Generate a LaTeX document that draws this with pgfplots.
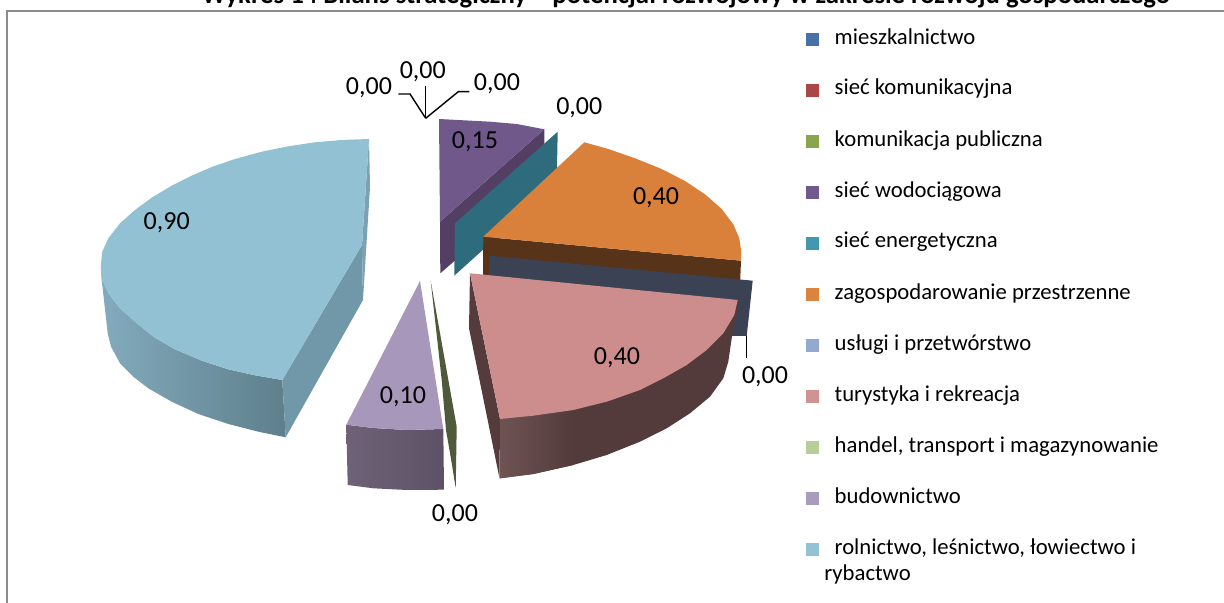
\documentclass[border=0pt]{standalone}
\usepackage{fontspec}
\setmainfont{Carlito}
\usepackage{pgfplots}
\pgfplotsset{compat=1.18}

% legend colours
\definecolor{lgA}{HTML}{4672A8}
\definecolor{lgB}{HTML}{AA4644}
\definecolor{lgC}{HTML}{89A54E}
\definecolor{lgD}{HTML}{71588F}
\definecolor{lgE}{HTML}{4198AF}
\definecolor{lgF}{HTML}{DB843D}
\definecolor{lgG}{HTML}{93A9CF}
\definecolor{lgH}{HTML}{D19392}
\definecolor{lgI}{HTML}{B9CD96}
\definecolor{lgJ}{HTML}{A99BBD}
\definecolor{lgK}{HTML}{92C3D5}
% slice faces and walls
\definecolor{topK}{HTML}{92C1D3}
\definecolor{rightA}{HTML}{7098A9}
\definecolor{rightB}{HTML}{79A3B5}
\definecolor{wallAl}{HTML}{83ABBD}
\definecolor{wallAr}{HTML}{5E7F8C}
\definecolor{topD}{HTML}{71588B}
\definecolor{wallD}{HTML}{533F64}
\definecolor{wallE}{HTML}{2E6B7C}
\definecolor{topF}{HTML}{D9803B}
\definecolor{wallF}{HTML}{573319}
\definecolor{wallG}{HTML}{3B4253}
\definecolor{topH}{HTML}{CE8D8D}
\definecolor{wallH2}{HTML}{553B3C}
\definecolor{wallHl}{HTML}{6E5353}
\definecolor{wallHr}{HTML}{533B3B}
\definecolor{topJ}{HTML}{A797BB}
\definecolor{wallJl}{HTML}{6E6278}
\definecolor{wallJr}{HTML}{5D5265}
\definecolor{wallI}{HTML}{4F5A3C}

\pgfplotsset{
  face/.style={fill=#1,draw=none,forget plot},
  wall/.style 2 args={left color=#1,right color=#2,draw=none,forget plot},
  leader/.style={black,line width=0.7pt,forget plot},
}
\tikzset{val/.style={font=\fontsize{13}{15}\selectfont,anchor=base,inner sep=0pt}}

\begin{document}
\begin{tikzpicture}
\path[use as bounding box,clip] (0,0) rectangle (612pt,301.5pt);
\begin{axis}[
    at={(0,0)},anchor=south west,
    width=612pt,height=301.5pt,scale only axis,
    xmin=0,xmax=1224,ymin=0,ymax=603,y dir=reverse,
    hide axis,clip=false,
    legend cell align=left,
    legend style={at={(axis cs:806,31)},anchor=north west,draw=none,fill=none,
      inner sep=0pt,outer sep=0pt,row sep=16.75pt,column sep=7.85pt,
      font=\fontsize{11.35}{13}\selectfont,
      nodes={inner sep=0pt,text height=6.5pt,text depth=2.25pt}},
    legend image code/.code={\path[draw=none,#1] (0pt,-0.3em) rectangle (6.5pt,{6.5pt-0.3em});},
]
% frame
\addplot[draw=black!45,line width=1pt,forget plot] coordinates {(1224,11) (7,11) (7,603)};

% rolnictwo 0,90
\addplot[wall={wallAl}{wallAr}] coordinates {
  (101,270) (101.7,280) (107.7,333.3) (111,346.7) (120,363.3) (133.3,376.7) (148.3,388.3)
  (171.7,401.7) (198.3,414) (228.3,424) (258.3,431.7) (285.7,437.3) (282.3,380) (255,375.3)
  (228.3,369.3) (201.7,360.7) (175,349.3) (153.3,336.7) (135,321.7) (120,308.3) (108.3,293.3)} -- cycle;
\addplot[face=rightA] coordinates {(282.3,380) (362,245) (363,300) (285.7,437.3)} -- cycle;
\addplot[face=rightB] coordinates {(369,139) (370,187) (363,300) (362,245)} -- cycle;
\addplot[face=topK] coordinates {
  (369,139) (341.7,140) (315,142.3) (288.3,146.3) (261.7,151.7) (235,159) (211.7,167)
  (191.7,175.7) (171.7,185.7) (151.7,197.7) (135,210) (120,223.3) (108.3,238.3) (102.3,251.7)
  (100.7,266.7) (101.7,280) (108.3,293.3) (120,308.3) (135,321.7) (153.3,336.7) (175,349.3)
  (201.7,360.7) (228.3,369.3) (255,375.3) (282.3,380) (362,245)} -- cycle;

% siec wodociagowa 0,15
\addplot[face=wallD] coordinates {(440,221.7) (544.3,129.3) (544.3,183) (440.3,273.3)} -- cycle;
\addplot[face=topD] coordinates {(439,119) (490,121.7) (516.7,124) (544.3,129.3) (440,221.7)} -- cycle;

% siec energetyczna 0,00
\addplot[face=wallE] coordinates {(557.7,131.7) (455,223.3) (454.3,275.7) (556.7,183)} -- cycle;

% zagospodarowanie 0,40
\addplot[face=wallF] coordinates {(483.3,236.7) (741,260.7) (740,285) (483,285)} -- cycle;
\addplot[face=topF] coordinates {
  (584.3,142.3) (608.3,149) (635,158.3) (661.7,169) (685,181) (705,194.3) (721.7,209)
  (733.3,224.3) (739.3,238.3) (741,250) (741,260.7) (483.3,236.7)} -- cycle;

% uslugi 0,00
\addplot[face=wallG] coordinates {(489.3,255.7) (752.7,280.7) (746.7,336) (560,336) (489,290)} -- cycle;

% turystyka 0,40
\addplot[face=wallH2] coordinates {(470,273.3) (469,328.3) (499.5,478.3) (500,419)} -- cycle;
\addplot[face=wallHr] coordinates {
  (500,419) (500,478.3) (533.3,474) (573.3,465) (606.7,455) (640,441.7) (666.7,428.3)
  (690,413.3) (710,396.7) (723.3,378.3) (728.3,361.7) (731.7,338.3) (736.7,315) (737.7,300)} -- cycle;
\addplot[wall={wallHl}{wallHr}] coordinates {
  (500,419) (500,478.3) (533.3,474) (573.3,465) (573.3,410)} -- cycle;
\addplot[face=topH] coordinates {
  (470,273.3) (737.7,300) (734.3,315) (723.3,333.3) (706.7,350) (686.7,365) (663.3,378.3)
  (640,390) (606.7,401.7) (573.3,410) (533.3,415.7) (500,419)} -- cycle;

% budownictwo 0,10
\addplot[wall={wallJl}{wallJr}] coordinates {
  (346.3,424.7) (347.7,485) (373.3,488.3) (406.7,490) (444,489.7) (443.3,429) (406.7,430) (373.3,428)} -- cycle;
\addplot[face=topJ] coordinates {(420,281) (443.3,429) (406.7,430) (373.3,428) (346.3,424.7)} -- cycle;

% handel 0,00
\addplot[face=wallI] coordinates {
  (430.7,281) (456.7,426.7) (455.7,488.3) (451.7,463) (446,430) (441.7,380)} -- cycle;

% leader lines
\addplot[leader] coordinates {(398.3,94) (410,94) (425.7,118.3)};
\addplot[leader] coordinates {(425.7,85.7) (425.7,118.3)};
\addplot[leader] coordinates {(469.3,91.7) (458.3,91.7) (425.7,118.3)};
\addplot[leader] coordinates {(746.7,336) (746.7,358)};

% legend
\addlegendimage{fill=lgA}\addlegendentry{mieszkalnictwo}
\addlegendimage{fill=lgB}\addlegendentry{sieć komunikacyjna}
\addlegendimage{fill=lgC}\addlegendentry{komunikacja publiczna}
\addlegendimage{fill=lgD}\addlegendentry{sieć wodociągowa}
\addlegendimage{fill=lgE}\addlegendentry{sieć energetyczna}
\addlegendimage{fill=lgF}\addlegendentry{zagospodarowanie przestrzenne}
\addlegendimage{fill=lgG}\addlegendentry{usługi i przetwórstwo}
\addlegendimage{fill=lgH}\addlegendentry{turystyka i rekreacja}
\addlegendimage{fill=lgI}\addlegendentry{handel, transport i magazynowanie}
\addlegendimage{fill=lgJ}\addlegendentry{budownictwo}
\addlegendimage{fill=lgK}\addlegendentry{rolnictwo, leśnictwo, łowiectwo i}

% texts
\node[font=\fontsize{11.35}{13}\selectfont,anchor=base west,inner sep=0pt] at (axis cs:824,580) {rybactwo};
\node[font=\bfseries\fontsize{13.35}{15}\selectfont,anchor=base,inner sep=0pt] at (axis cs:686,4) {Wykres 14 Bilans strategiczny -- potencjał rozwojowy w zakresie rozwoju gospodarczego};
\node[val] at (axis cs:369,94.3) {0,00};
\node[val] at (axis cs:422.8,79) {0,00};
\node[val] at (axis cs:497,91) {0,00};
\node[val] at (axis cs:579.3,115) {0,00};
\node[val] at (axis cs:475,148.3) {0,15};
\node[val] at (axis cs:656,205) {0,40};
\node[val] at (axis cs:617,365) {0,40};
\node[val] at (axis cs:765,383.3) {0,00};
\node[val] at (axis cs:403,403.3) {0,10};
\node[val] at (axis cs:166.7,229.3) {0,90};
\node[val] at (axis cs:455,521.7) {0,00};
\end{axis}
\end{tikzpicture}
\end{document}
